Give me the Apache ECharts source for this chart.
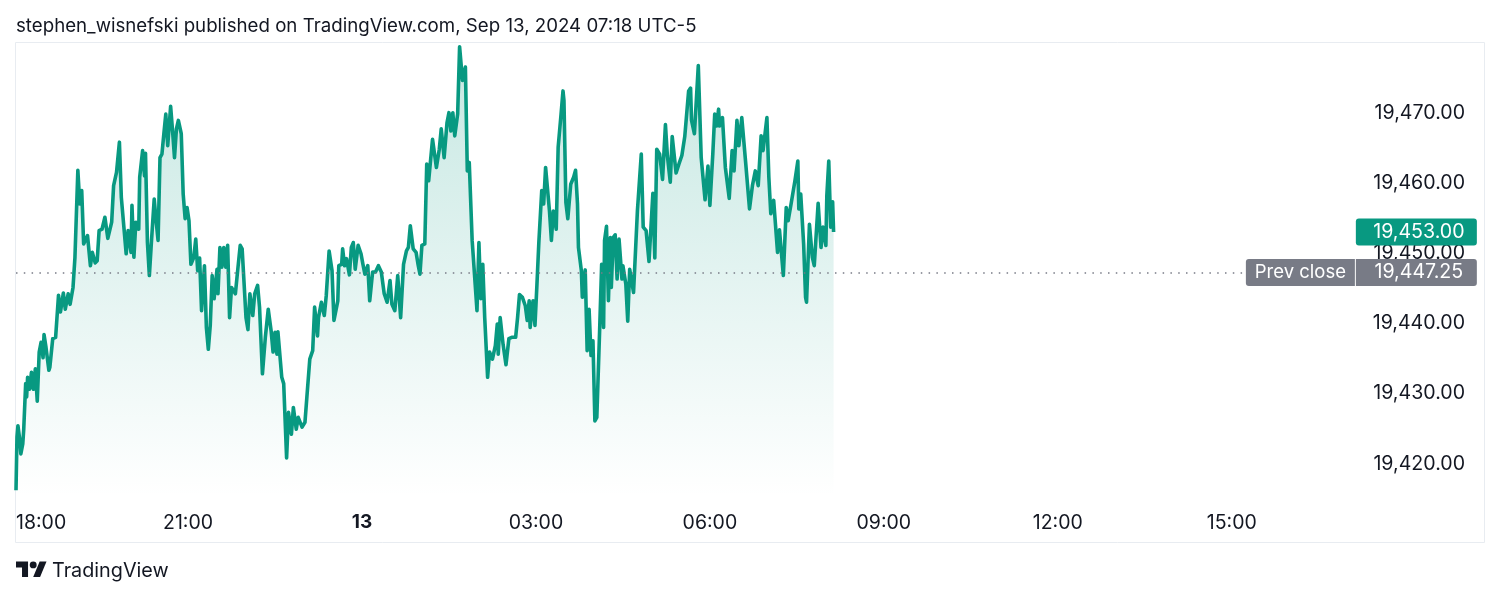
<!DOCTYPE html>
<html>
<head>
<meta charset="utf-8">
<title>NQ chart</title>
<script src="https://cdn.jsdelivr.net/npm/echarts@6/dist/echarts.min.js"></script>
<style>
  html, body { margin: 0; padding: 0; background: #fff; }
  #main { width: 1500px; height: 597px; }
</style>
</head>
<body>
<div id="main"></div>
<script>
// minutes since 18:00
const minutes = [
  2,3,4,6,7,9,10,12,13,14,16,18,20,22,24,26,28,30,31,33,36,37,40,43,46,48,51,53,56,58,
  61,63,66,68,70,72,76,79,81,84,86,88,91,94,97,101,103,106,109,111,116,118,121,122,124,126,129,130,133,135,
  136,138,140,142,145,147,149,151,153,155,157,159,162,164,166,168,170,173,175,177,179,181,183,186,188,190,192,194,197,199,
  201,203,205,207,210,211,213,215,217,219,221,223,225,229,231,234,236,240,242,244,247,249,252,254,257,260,263,266,268,270,
  272,273,277,279,282,284,287,289,292,294,298,301,303,306,309,311,314,315,318,321,323,326,329,331,335,336,339,340,342,344,
  347,349,351,353,356,359,361,363,366,368,371,374,377,380,383,386,389,391,394,397,400,403,406,408,410,413,416,418,420,422,
  425,427,429,433,437,440,442,445,448,450,452,454,456,459,461,464,467,469,471,474,479,481,483,485,487,488,490,492,495,498,
  500,501,503,506,509,512,515,519,521,523,526,529,531,533,534,537,539,541,543,546,548,550,554,556,558,561,563,566,568,569,
  571,573,576,579,581,583,584,587,588,591,593,595,597,599,601,603,606,608,610,611,613,615,617,618,620,622,624,626,629,630,
  633,635,637,639,641,645,649,651,654,657,661,663,665,668,671,674,676,679,681,685,688,691,694,696,698,700,701,704,708,711,
  715,718,720,723,725,727,729,730,733,736,740,743,745,748,750,753,757,761,764,767,770,773,775,779,781,783,786,790,792,796,
  799,801,804,808,811,812,814,817,819,820,823,826,828,832,835,837,840,841,843,845,847,848
]
const prices = [
  19416.2,19423.8,19425.4,19423.3,19421.4,19422.8,19424.9,19431.4,19429.5,19432.3,19430.6,19433.0,19430.6,19433.5,19428.9,19435.9,19437.3,19435.1,19438.4,19436.6,19433.3,19433.7,19437.8,19438.0,19444.0,19441.6,19444.3,19442.0,19444.2,19442.7,
  19445.1,19449.4,19461.8,19457.0,19458.9,19451.3,19452.5,19448.2,19450.1,19448.6,19448.9,19453.2,19453.4,19455.1,19452.1,19454.4,19459.6,19461.5,19465.8,19457.9,19449.9,19453.2,19450.1,19456.8,19449.4,19454.4,19453.4,19460.8,19464.6,19461.0,
  19464.2,19451.5,19446.8,19451.3,19457.7,19454.6,19451.8,19463.6,19464.1,19467.0,19469.8,19465.3,19470.9,19467.4,19463.6,19467.7,19468.9,19467.0,19458.4,19454.9,19456.5,19454.6,19448.4,19449.4,19452.0,19447.5,19449.3,19441.8,19448.2,19439.4,
  19436.3,19439.7,19446.8,19443.5,19447.7,19444.2,19450.8,19448.0,19450.8,19448.0,19451.1,19440.8,19445.1,19444.2,19447.0,19451.1,19450.6,19440.8,19439.1,19444.2,19441.1,19444.2,19445.4,19442.3,19432.8,19438.0,19442.0,19438.9,19435.9,19438.7,
  19435.6,19438.8,19432.3,19431.4,19420.8,19427.3,19424.2,19428.0,19424.9,19426.6,19425.2,19425.9,19429.5,19434.9,19436.1,19442.3,19438.2,19440.8,19443.0,19441.1,19443.9,19450.3,19447.5,19440.4,19443.2,19448.2,19448.4,19450.6,19448.2,19449.2,
  19446.9,19450.8,19451.5,19447.7,19451.1,19449.9,19448.4,19447.0,19448.2,19443.2,19447.3,19447.3,19448.2,19447.3,19444.2,19443.0,19446.1,19442.7,19441.8,19446.8,19440.8,19448.4,19450.3,19450.8,19453.9,19450.6,19450.1,19448.4,19447.0,19451.1,
  19451.3,19462.7,19460.3,19466.2,19462.2,19464.8,19467.7,19463.6,19468.6,19470.0,19467.4,19470.0,19466.7,19469.8,19479.4,19474.6,19476.5,19461.7,19462.9,19451.8,19441.8,19451.5,19443.5,19448.4,19440.8,19438.0,19432.3,19435.9,19434.9,19436.8,
  19439.9,19435.6,19440.8,19437.0,19434.1,19437.8,19438.0,19438.0,19440.8,19444.1,19443.7,19442.5,19440.4,19443.2,19439.4,19443.2,19439.7,19445.4,19451.5,19458.9,19457.0,19462.2,19456.0,19451.8,19456.0,19453.4,19465.1,19469.8,19473.1,19471.7,
  19457.2,19454.9,19459.8,19460.8,19461.8,19457.0,19450.8,19447.5,19443.7,19447.6,19436.1,19442.0,19435.4,19437.5,19426.1,19426.6,19439.4,19448.4,19439.4,19451.8,19453.8,19443.2,19452.2,19445.1,19452.2,19452.6,19446.3,19452.0,19446.3,19448.2,
  19445.6,19440.3,19447.7,19447.9,19444.4,19456.0,19464.1,19453.7,19453.2,19448.8,19458.5,19449.3,19464.8,19464.1,19460.5,19468.3,19463.9,19460.1,19466.6,19461.4,19462.7,19463.9,19466.6,19466.5,19473.1,19473.5,19468.9,19467.0,19476.7,19463.6,
  19457.6,19462.4,19456.8,19464.1,19469.8,19468.1,19470.5,19468.1,19469.3,19462.2,19457.8,19464.6,19461.7,19468.9,19465.3,19469.3,19462.9,19456.3,19459.6,19461.7,19459.6,19466.7,19464.6,19469.3,19460.8,19455.6,19457.5,19450.1,19453.3,19446.8,
  19456.5,19454.6,19457.0,19460.3,19463.1,19456.3,19458.4,19451.3,19443.7,19443.0,19454.1,19449.4,19448.2,19457.1,19450.8,19453.7,19451.1,19458.2,19463.1,19453.7,19457.3,19453.0
]

const priceTicks = [19420, 19430, 19440, 19450, 19460, 19470]
const timeTicks = [2, 180, 360, 540, 720, 900, 1080, 1260]
const timeLabels = ['18:00', '21:00', '{day|13}', '03:00', '06:00', '09:00', '12:00', '15:00']
const prevClose = 19447.25
const lastPrice = 19453
const titleText = 'stephen_wisnefski published on TradingView.com, Sep 13, 2024 07:18 UTC-5'

const green = '#089981'
const grey = '#787b86'
const ink = '#131722'
const font = 'Inter'

function fmtPrice(v) {
  return v.toLocaleString('en-US', { minimumFractionDigits: 2, maximumFractionDigits: 2 })
}

const chart = echarts.init(document.getElementById('main'), null, { width: 1500, height: 597 })
chart.setOption({
  animation: false,
  backgroundColor: '#fff',
  textStyle: { fontFamily: font },
  title: {
    text: titleText,
    left: 16, top: 16.5, padding: 0,
    textStyle: { fontFamily: font, fontSize: 18.7, fontWeight: 'normal', color: ink }
  },
  grid: { left: 16, right: 16, top: 42, bottom: 100 },
  xAxis: {
    type: 'value', min: 2, max: 1521,
    axisLine: { show: false }, axisTick: { show: false }, splitLine: { show: false },
    axisLabel: {
      customValues: timeTicks,
      alignMinLabel: 'left',
      margin: 16,
      fontFamily: font, fontSize: 19.5, color: ink,
      formatter: (v, i) => timeLabels[timeTicks.indexOf(v)],
      rich: { day: { fontFamily: font, fontSize: 19, fontWeight: 'bold', color: ink } }
    }
  },
  yAxis: {
    type: 'value', position: 'right', min: 19415.25, max: 19480.07,
    axisLine: { show: false }, axisTick: { show: false }, splitLine: { show: false },
    axisLabel: {
      customValues: priceTicks,
      inside: true, margin: 19, padding: [3, 0, 0, 0],
      fontFamily: font, fontSize: 19.6, color: ink,
      formatter: v => fmtPrice(v)
    }
  },
  series: [{
    type: 'line',
    data: minutes.map((m, i) => [m, prices[i]]),
    showSymbol: false,
    symbol: 'none',
    lineStyle: { color: green, width: 3.6, join: 'round' },
    areaStyle: {
      color: new echarts.graphic.LinearGradient(0, 0, 0, 1, [
        { offset: 0, color: 'rgba(8,153,129,0.33)' },
        { offset: 1, color: 'rgba(8,153,129,0)' }
      ])
    },
    markLine: {
      silent: true, symbol: 'none',
      label: { show: false },
      lineStyle: { color: grey, width: 1.5, type: [1.5, 6.3] },
      data: [[{ coord: [2, prevClose] }, { coord: [1275, prevClose] }]]
    },
    markPoint: {
      silent: true, symbol: 'rect', symbolSize: 1,
      itemStyle: { color: 'rgba(0,0,0,0)' },
      label: {
        show: true, position: 'inside', align: 'center', verticalAlign: 'middle',
        fontFamily: font, fontSize: 19.6, color: '#fff', height: 23, lineHeight: 23
      },
      data: [
        { coord: [1331, prevClose], value: 'Prev close',
          label: { width: 109, padding: [4, 0, 0, 0], fontSize: 18.5, backgroundColor: grey, borderRadius: [3, 0, 0, 3], formatter: 'Prev close' } },
        { coord: [1451, prevClose], value: prevClose,
          label: { width: 116, padding: [4, 0, 0, 5], backgroundColor: grey, borderRadius: [0, 3, 3, 0], formatter: fmtPrice(prevClose) } },
        { coord: [1451, lastPrice], value: lastPrice,
          label: { width: 116, padding: [4, 0, 0, 5], backgroundColor: green, borderRadius: [3, 3, 3, 3], formatter: fmtPrice(lastPrice) } }
      ]
    }
  }],
  graphic: [
    { type: 'rect', z: -1, shape: { x: 15.5, y: 42.5, width: 1469, height: 500 },
      style: { fill: 'none', stroke: '#e8ecf1', lineWidth: 1 } },
    { type: 'group', x: 16, y: 558, scaleX: 0.86, scaleY: 0.86, children: [
      { type: 'polygon', shape: { points: [[0, 4], [14, 4], [14, 22], [7, 22], [7, 11], [0, 11]] }, style: { fill: ink } },
      { type: 'polygon', shape: { points: [[20, 22], [27.5, 4], [35.5, 4], [28, 22]] }, style: { fill: ink } },
      { type: 'circle', shape: { cx: 20, cy: 8, r: 4 }, style: { fill: ink } }
    ] },
    { type: 'text', x: 52, y: 571, style: { text: 'TradingView', fontFamily: font, fontSize: 19.8,
        fill: ink, verticalAlign: 'middle' } }
  ]
})
</script>
</body>
</html>
